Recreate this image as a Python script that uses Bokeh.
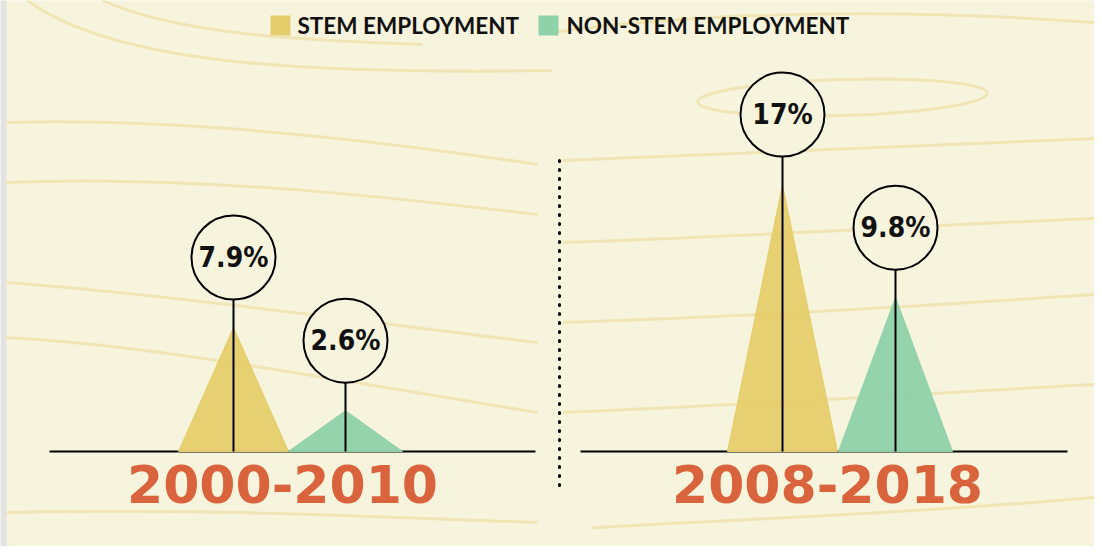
from bokeh.plotting import figure
from bokeh.models import Range1d
from bokeh.embed import file_html
from bokeh.resources import INLINE
from bokeh.core.properties import value

# ---- data ----
periods = ["2000-2010", "2008-2018"]
stem_growth = [7.9, 17.0]
nonstem_growth = [2.6, 9.8]
stem_labels = ["7.9%", "17%"]
nonstem_labels = ["2.6%", "9.8%"]
legend_labels = ["STEM EMPLOYMENT", "NON-STEM EMPLOYMENT"]

# ---- style / layout ----
CREAM = "#f6f4dc"
YELLOW = "#e6cd6c"
GREEN = "#8fd1a9"
ORANGE = "#d9633c"
DECO = "#f1e5b5"
S = 15.7          # pixels per percentage point
B = 459           # baseline page y
W, H = 1094, 546

def yp(page_y):
    return (B - page_y) / S

p = figure(width=W, height=H, output_backend="svg", toolbar_location=None,
           x_range=Range1d(8, 8 + W), y_range=Range1d(yp(8 + H), yp(8)),
           x_axis_location=None, y_axis_location=None, min_border=0,
           background_fill_color=CREAM, border_fill_color=CREAM,
           outline_line_color=None)
p.grid.visible = False

# left gray strip
p.quad(left=[8], right=[14], bottom=[yp(8 + H)], top=[yp(8)],
       fill_color="#e3e3e3", line_color=None)

# decorative background curves
deco = [
    (35, 8, 120, 70, 300, 82, 560, 78),
    (110, 8, 180, 40, 300, 48, 430, 52),
    (14, 130, 200, 125, 400, 150, 545, 172),
    (14, 190, 200, 182, 400, 205, 545, 222),
    (14, 290, 150, 300, 300, 320, 545, 350),
    (14, 345, 150, 352, 300, 380, 545, 420),
    (14, 520, 200, 515, 400, 525, 545, 530),
    (570, 168, 800, 160, 950, 152, 1102, 146),
    (570, 250, 800, 242, 950, 232, 1102, 226),
    (570, 330, 800, 322, 950, 312, 1102, 302),
    (570, 420, 800, 410, 950, 400, 1102, 392),
    (600, 535, 800, 525, 950, 518, 1102, 505),
    (560, 40, 700, 20, 900, 15, 1102, 30),
]
p.bezier(x0=[d[0] for d in deco], y0=[yp(d[1]) for d in deco],
         cx0=[d[2] for d in deco], cy0=[yp(d[3]) for d in deco],
         cx1=[d[4] for d in deco], cy1=[yp(d[5]) for d in deco],
         x1=[d[6] for d in deco], y1=[yp(d[7]) for d in deco],
         line_color=DECO, line_width=3)
p.ellipse(x=[850], y=[yp(105)], width=290, height=36 / S, angle=0.03,
          fill_color=None, line_color=DECO, line_width=3)

# baselines & divider
p.segment(x0=[57, 588], y0=[0, 0], x1=[543, 1075], y1=[0, 0],
          line_color="black", line_width=2)
p.segment(x0=[567], y0=[yp(168)], x1=[567], y1=[yp(498)],
          line_color="black", line_width=3, line_dash="1 8", line_cap="round")

# triangles
stem_x = [241, 790]
non_x = [353, 903]
hw_s, hw_n = 55, 57
p.patches(xs=[[c - hw_s, c, c + hw_s] for c in stem_x],
          ys=[[0, v, 0] for v in stem_growth],
          fill_color=YELLOW, line_color=YELLOW, fill_alpha=0.95)
p.patches(xs=[[c - hw_n, c, c + hw_n] for c in non_x],
          ys=[[0, v, 0] for v in nonstem_growth],
          fill_color=GREEN, line_color=GREEN, fill_alpha=0.95)

# lollipop lines + circles
xs_all = stem_x + non_x
vals_all = stem_growth + nonstem_growth
labels_all = stem_labels + nonstem_labels
cy = [v + 70 / S for v in vals_all]
p.segment(x0=xs_all, y0=[0] * 4, x1=xs_all, y1=cy, line_color="black", line_width=2)
p.scatter(x=xs_all, y=cy, size=84, marker="circle", fill_color=CREAM,
          line_color="black", line_width=2)
p.text(x=xs_all, y=cy, text=labels_all,
       text_font=value("DejaVu Sans Condensed"),
       text_font_size="28px", text_font_style="bold",
       text_align="center", text_baseline="middle", text_color="#111111")

# period labels
p.text(x=[290, 835], y=[yp(491)] * 2, text=periods, text_font=value("DejaVu Sans"),
       text_font_size="52px", text_font_style="bold", text_color=ORANGE,
       text_align="center", text_baseline="middle")

# legend
p.scatter(x=[288, 556], y=[yp(33)] * 2, marker="square", size=20,
          fill_color=[YELLOW, GREEN], line_color=None)
p.text(x=[305, 574], y=[yp(33)] * 2, text=legend_labels, text_font=value("Lato"),
       text_font_size="22.5px", text_font_style="bold", text_color="#111111",
       text_align="left", text_baseline="middle")

open("out.html", "w").write(file_html(p, INLINE))
